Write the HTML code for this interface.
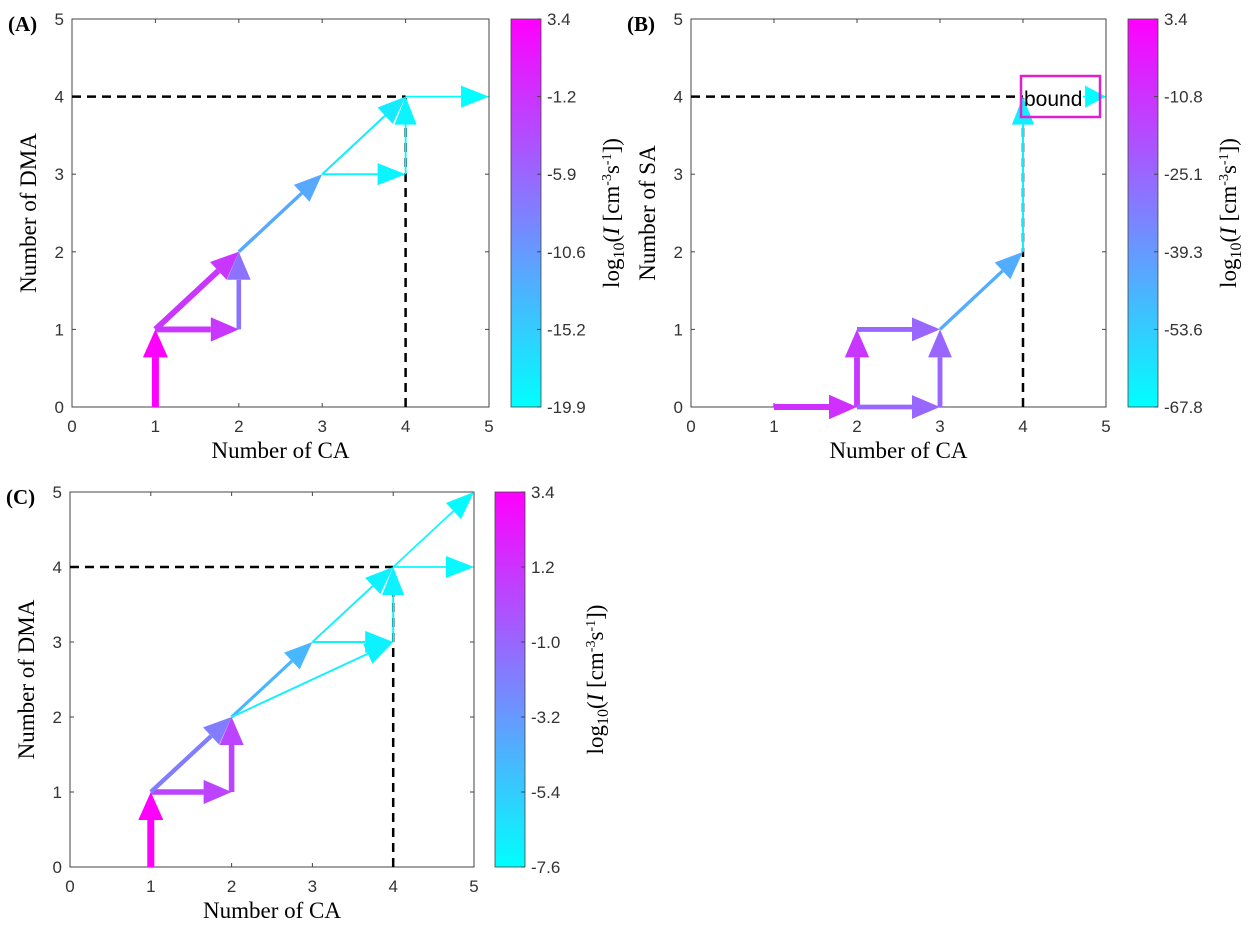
<!DOCTYPE html>
<html><head><meta charset="utf-8">
<style>
html,body{margin:0;padding:0;background:#fff;}
svg{display:block;}
.tk{font-family:"Liberation Sans",sans-serif;font-size:17px;fill:#333;}
.lb{font-family:"Liberation Serif",serif;font-size:23px;fill:#000;}
.pl{font-family:"Liberation Serif",serif;font-size:21px;font-weight:bold;fill:#000;}
</style></head>
<body>
<svg id="fig" width="1248" height="934" viewBox="0 0 1248 934" xmlns="http://www.w3.org/2000/svg">
<defs>
<linearGradient id="cool" x1="0" y1="1" x2="0" y2="0">
<stop offset="0" stop-color="#00ffff"/><stop offset="1" stop-color="#ff00ff"/>
</linearGradient>
</defs>
</svg>
<script>
// Panel A data
const aFrom = [[1,0],[1,1],[1,1],[2,1],[2,2],[3,3],[3,3],[4,3],[4,4]];
const aTo   = [[1,1],[2,2],[2,1],[2,2],[3,3],[4,4],[4,3],[4,4],[5,4]];
const aVal  = [3.4,-1.5,-1.5,-7,-12,-18,-19,-19,-19.9];
const aTicks = ["3.4","-1.2","-5.9","-10.6","-15.2","-19.9"];
// Panel B data
const bFrom = [[1,0],[2,0],[2,0],[2,1],[3,0],[3,1],[4,2],[4.72,4]];
const bTo   = [[2,0],[2,1],[3,0],[3,1],[3,1],[4,2],[4,4],[5,4]];
const bVal  = [-10,-12,-25,-25,-25,-45,-63,-67];
const bTicks = ["3.4","-10.8","-25.1","-39.3","-53.6","-67.8"];
// Panel C data
const cFrom = [[1,0],[1,1],[2,1],[1,1],[2,2],[2,2],[3,3],[3,3],[4,3],[4,4],[4,4]];
const cTo   = [[1,1],[2,1],[2,2],[2,2],[3,3],[4,3],[4,3],[4,4],[4,4],[5,4],[5,5]];
const cVal  = [3.4,0.5,0.5,-2,-4.5,-7,-7,-7,-7,-7.3,-7.4];
const cTicks = ["3.4","1.2","-1.0","-3.2","-5.4","-7.6"];

const NS="http://www.w3.org/2000/svg";
const svg=document.getElementById('fig');
function mk(tag,attrs,parent){const e=document.createElementNS(NS,tag);for(const k in attrs)e.setAttribute(k,attrs[k]);(parent||svg).appendChild(e);return e;}
function cool(t){t=Math.max(0,Math.min(1,t));const r=Math.round(255*t),g=Math.round(255*(1-t));return `rgb(${r},${g},255)`;}

function panel(p){
  const g=mk('g',{});
  
  
  const X=v=>p.l+(p.r-p.l)*v/5, Y=v=>p.b-(p.b-p.t)*v/5;
  const box=mk('rect',{x:p.l,y:p.t,width:p.r-p.l,height:p.b-p.t,fill:'none',stroke:'#444','stroke-width':1},g);
  
  
  for(let i=0;i<=5;i++){
    mk('line',{x1:X(i),x2:X(i),y1:p.b,y2:p.b-4,stroke:'#444'},g);
    mk('line',{x1:X(i),x2:X(i),y1:p.t,y2:p.t+4,stroke:'#444'},g);
    mk('line',{x1:p.l,x2:p.l+4,y1:Y(i),y2:Y(i),stroke:'#444'},g);
    mk('line',{x1:p.r,x2:p.r-4,y1:Y(i),y2:Y(i),stroke:'#444'},g);
    const xt=mk('text',{x:X(i),y:p.b+25,'text-anchor':'middle',class:'tk'},g);xt.textContent=i;
    
    
    const yt=mk('text',{x:p.l-8,y:Y(i)+6,'text-anchor':'end',class:'tk'},g);yt.textContent=i;
    
    
  }
  const dh=mk('line',{x1:X(0),y1:Y(4),x2:X(4),y2:Y(4),stroke:'#000','stroke-width':2.5,'stroke-dasharray':'9,6'},g);
  
  
  const dv=mk('line',{x1:X(4),y1:Y(0),x2:X(4),y2:Y(4),stroke:'#000','stroke-width':2.5,'stroke-dasharray':'9,6'},g);
  
  
  const lo=parseFloat(p.ticks[p.ticks.length-1]), hi=parseFloat(p.ticks[0]);
  for(let i=0;i<p.from.length;i++){
    const t=(p.val[i]-lo)/(hi-lo);
    const col=cool(t), w=1.6+5.4*t;
    const x1=X(p.from[i][0]),y1=Y(p.from[i][1]),x2=X(p.to[i][0]),y2=Y(p.to[i][1]);
    const dx=x2-x1,dy=y2-y1,L=Math.hypot(dx,dy),ux=dx/L,uy=dy/L;
    const hl=Math.min(28,L*0.9),hw=11+1.5*t;
    const bx=x2-ux*hl,by=y2-uy*hl;
    const ag=mk('g',{},g);
    
    
    mk('line',{x1:x1,y1:y1,x2:bx,y2:by,stroke:col,'stroke-width':w},ag);
    mk('polygon',{points:`${x2},${y2} ${bx-uy*hw},${by+ux*hw} ${bx+uy*hw},${by-ux*hw}`,fill:col},ag);
  }
  const cb=mk('rect',{x:p.cb,y:p.t,width:30,height:p.b-p.t,fill:'url(#cool)',stroke:'#444','stroke-width':0.8},g);
  
  
  p.ticks.forEach((s,k)=>{
    const yy=p.t+(p.b-p.t)*k/5;
    mk('line',{x1:p.cb+30,x2:p.cb+26,y1:yy,y2:yy,stroke:'#444'},g);
    const ct=mk('text',{x:p.cb+36,y:yy+6,class:'tk'},g);ct.textContent=s;
    
    
  });
  const cx=p.cb+108, cy=(p.t+p.b)/2;
  const cl=mk('text',{x:cx,y:cy,'text-anchor':'middle',class:'lb',transform:`rotate(-90 ${cx} ${cy})`},g);
  cl.innerHTML='log<tspan font-size="16" dy="5">10</tspan><tspan dy="-5">(</tspan><tspan font-style="italic">I</tspan> [cm<tspan font-size="14" dy="-8">-3</tspan><tspan dy="8">s</tspan><tspan font-size="14" dy="-8">-1</tspan><tspan dy="8">])</tspan>';
  
  
  const xl=mk('text',{x:(p.l+p.r)/2,y:p.b+51,'text-anchor':'middle',class:'lb'},g);xl.textContent='Number of CA';
  
  
  const yx=p.l-36;
  const yl=mk('text',{x:yx,y:cy,'text-anchor':'middle',class:'lb',transform:`rotate(-90 ${yx} ${cy})`},g);yl.textContent=p.ylab;
  
  
  const pl=mk('text',{x:p.l-64,y:p.t+12,class:'pl'},g);pl.textContent='('+p.id+')';
  
  
  return {g,X,Y};
}
panel({id:'A',l:72,r:489,t:19,b:407,cb:511,from:aFrom,to:aTo,val:aVal,ticks:aTicks,ylab:'Number of DMA'});
const B=panel({id:'B',l:691,r:1106,t:19,b:407,cb:1128,from:bFrom,to:bTo,val:bVal,ticks:bTicks,ylab:'Number of SA'});
panel({id:'C',l:70,r:474,t:492,b:867,cb:495,from:cFrom,to:cTo,val:cVal,ticks:cTicks,ylab:'Number of DMA'});
const bb=mk('rect',{x:1021,y:76,width:79,height:41,fill:'none',stroke:'#e020d0','stroke-width':2.5},B.g);


const bt=mk('text',{x:1024,y:106,style:'font-family:"Liberation Sans",sans-serif;font-size:21px;fill:#000'},B.g);
bt.textContent='bound';


</script>
</body></html>
